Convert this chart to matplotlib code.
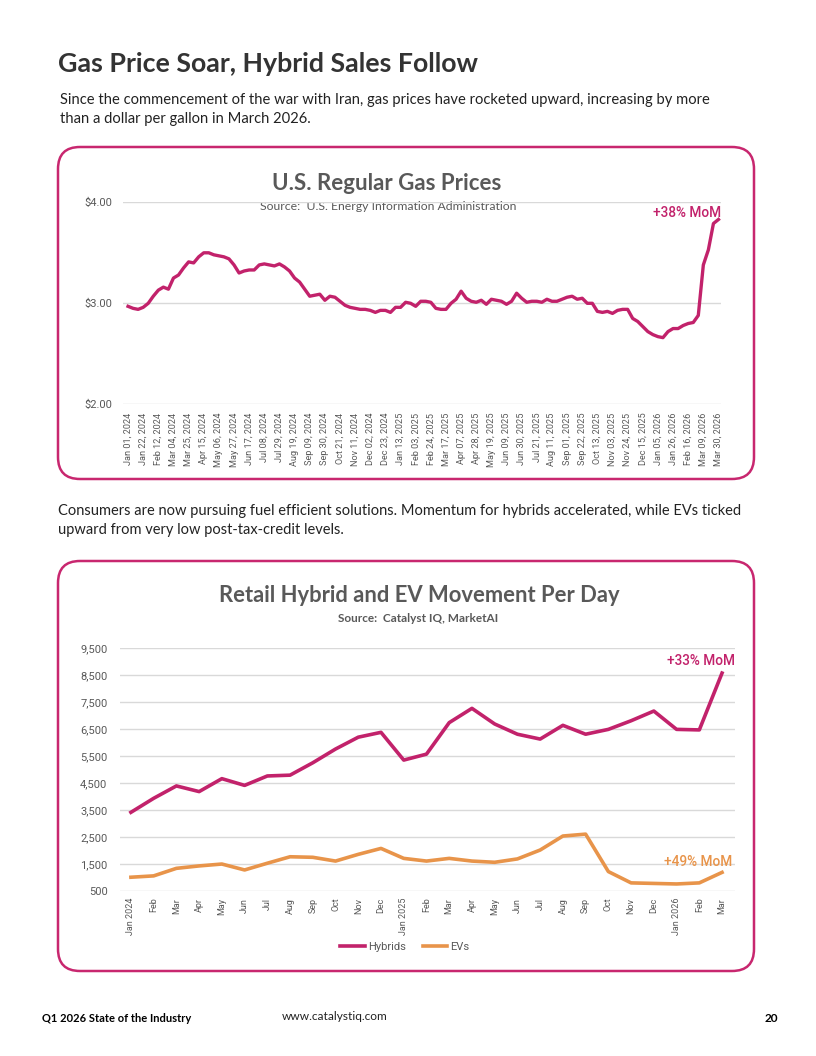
import matplotlib
matplotlib.use("Agg")
import matplotlib.pyplot as plt
from matplotlib.patches import FancyBboxPatch
from matplotlib.lines import Line2D

# ---------------- data ----------------
gas_prices = [
    2.97, 2.95, 2.94, 2.96, 3.00, 3.07, 3.13, 3.16, 3.14, 3.25,
    3.28, 3.35, 3.41, 3.40, 3.46, 3.50, 3.50, 3.48, 3.47, 3.46,
    3.44, 3.38, 3.30, 3.32, 3.33, 3.33, 3.38, 3.39, 3.38, 3.37,
    3.39, 3.36, 3.32, 3.25, 3.21, 3.14, 3.07, 3.08, 3.09, 3.03,
    3.07, 3.06, 3.02, 2.98, 2.96, 2.95, 2.94, 2.94, 2.93, 2.91,
    2.93, 2.93, 2.91, 2.96, 2.96, 3.01, 3.00, 2.97, 3.02, 3.02,
    3.01, 2.95, 2.94, 2.94, 3.00, 3.04, 3.12, 3.05, 3.02, 3.01,
    3.03, 2.99, 3.04, 3.03, 3.02, 2.99, 3.02, 3.10, 3.05, 3.01,
    3.02, 3.02, 3.01, 3.04, 3.02, 3.02, 3.04, 3.06, 3.07, 3.04,
    3.05, 3.00, 3.00, 2.92, 2.91, 2.92, 2.90, 2.93, 2.94, 2.94,
    2.85, 2.82, 2.77, 2.72, 2.69, 2.67, 2.66, 2.72, 2.75, 2.75,
    2.78, 2.80, 2.81, 2.88, 3.38, 3.53, 3.79, 3.83,
]
gas_tick_labels = [
    "Jan 01, 2024", "Jan 22, 2024", "Feb 12, 2024", "Mar 04, 2024", "Mar 25, 2024",
    "Apr 15, 2024", "May 06, 2024", "May 27, 2024", "Jun 17, 2024", "Jul 08, 2024",
    "Jul 29, 2024", "Aug 19, 2024", "Sep 09, 2024", "Sep 30, 2024", "Oct 21, 2024",
    "Nov 11, 2024", "Dec 02, 2024", "Dec 23, 2024", "Jan 13, 2025", "Feb 03, 2025",
    "Feb 24, 2025", "Mar 17, 2025", "Apr 07, 2025", "Apr 28, 2025", "May 19, 2025",
    "Jun 09, 2025", "Jun 30, 2025", "Jul 21, 2025", "Aug 11, 2025", "Sep 01, 2025",
    "Sep 22, 2025", "Oct 13, 2025", "Nov 03, 2025", "Nov 24, 2025", "Dec 15, 2025",
    "Jan 05, 2026", "Jan 26, 2026", "Feb 16, 2026", "Mar 09, 2026", "Mar 30, 2026",
]
gas_yticks = [2.0, 3.0, 4.0]

months = [
    "Jan 2024", "Feb", "Mar", "Apr", "May", "Jun", "Jul", "Aug", "Sep", "Oct", "Nov", "Dec",
    "Jan 2025", "Feb", "Mar", "Apr", "May", "Jun", "Jul", "Aug", "Sep", "Oct", "Nov", "Dec",
    "Jan 2026", "Feb", "Mar",
]
hybrids = [3410, 3930, 4390, 4180, 4660, 4410, 4760, 4790, 5250, 5760, 6200, 6380,
           5350, 5570, 6740, 7270, 6690, 6310, 6130, 6640, 6310, 6490, 6810, 7170,
           6490, 6470, 8580]
evs = [1000, 1050, 1330, 1420, 1490, 1270, 1520, 1760, 1740, 1600, 1850, 2070,
       1700, 1600, 1700, 1600, 1555, 1680, 2010, 2530, 2600, 1210, 790, 770,
       750, 790, 1180]
hy_yticks = list(range(500, 10000, 1000))

# ---------------- style ----------------
W, H = 816, 1056
MAG = "#C2226B"
ORG = "#E8944A"
BORDER = "#C8276F"
GRID = "#D9D9D9"
TXT = "#595959"
DARK = "#333333"
BODY = ["Lato", "DejaVu Sans"]
NARROW = ["Roboto", "DejaVu Sans"]

fig = plt.figure(figsize=(W / 100, H / 100), dpi=100)
fig.patch.set_facecolor("white")

bg = fig.add_axes([0, 0, 1, 1])
bg.set_xlim(0, W)
bg.set_ylim(H, 0)
bg.axis("off")


def axes_px(left, top, right, bottom):
    return fig.add_axes([left / W, 1 - bottom / H, (right - left) / W, (bottom - top) / H])


# page text
bg.text(58, 64, "Gas Price Soar, Hybrid Sales Follow", fontsize=19.3, fontweight="bold",
        color=DARK, family=BODY, va="center", ha="left")
bg.text(60, 100, "Since the commencement of the war with Iran, gas prices have rocketed upward, increasing by more",
        fontsize=10.6, color="#222222", family=BODY, va="center")
bg.text(60, 119, "than a dollar per gallon in March 2026.",
        fontsize=10.6, color="#222222", family=BODY, va="center")
bg.text(58, 511, "Consumers are now pursuing fuel efficient solutions. Momentum for hybrids accelerated, while EVs ticked",
        fontsize=10.5, color="#222222", family=BODY, va="center")
bg.text(58, 530, "upward from very low post-tax-credit levels.",
        fontsize=10.5, color="#222222", family=BODY, va="center")

# boxes
for (x0, y0, x1, y1) in [(58, 147, 754, 479), (58, 561, 754, 971)]:
    bg.add_patch(FancyBboxPatch((x0, y0), x1 - x0, y1 - y0,
                                boxstyle="round,pad=0,rounding_size=22",
                                fill=False, edgecolor=BORDER, linewidth=1.8))

# footer
bg.text(42, 1018, "Q1 2026 State of the Industry", fontsize=8.0, fontweight="bold",
        color="black", family=BODY, va="center")
bg.text(282, 1017, "www.catalystiq.com", fontsize=8.6, color="#222222", family=BODY, va="center")
bg.text(778, 1019, "20", fontsize=8.5, fontweight="bold", color="black", family=BODY,
        va="center", ha="right")

# ---------------- gas chart ----------------
gx = list(range(len(gas_prices)))
ax1 = axes_px(123, 202.3, 721, 404.3)
ax1.plot(gx, gas_prices, color=MAG, linewidth=2.4, solid_joinstyle="round", clip_on=False, zorder=3)
ax1.set_xlim(-1, 117.5)
ax1.set_ylim(2, 4)
ax1.set_yticks(gas_yticks)
ax1.set_yticklabels(["$%.2f" % v for v in gas_yticks], family=NARROW, fontsize=8, color=TXT)
ax1.set_xticks(gx[::3])
ax1.set_xticklabels(gas_tick_labels, rotation=90, family=NARROW, fontsize=6.6, color=TXT)
ax1.tick_params(length=0, pad=6)
ax1.tick_params(axis="y", pad=8)
ax1.grid(axis="y", color=GRID, linewidth=1)
for s in ax1.spines.values():
    s.set_visible(False)
ax1.set_facecolor("none")
ax1.text(gx[-1] + 0.5, 3.895, "+38% MoM", color=MAG, family=NARROW, fontsize=9.8,
         fontweight="medium", ha="right", va="center")

bg.text(387, 184, "U.S. Regular Gas Prices", fontsize=16, fontweight="bold", color=TXT,
        family=BODY, ha="center", va="center")
bg.text(388, 206, "Source:  U.S. Energy Information Administration", fontsize=8.8, color=TXT,
        family=BODY, ha="center", va="center", zorder=5)

# ---------------- hybrid / EV chart ----------------
mx = list(range(len(months)))
ax2 = axes_px(120, 648.3, 735, 890.7)
ax2.plot(mx, hybrids, color=MAG, linewidth=2.6, solid_joinstyle="round", clip_on=False, zorder=3,
         label="Hybrids")
ax2.plot(mx, evs, color=ORG, linewidth=2.6, solid_joinstyle="round", clip_on=False, zorder=3,
         label="EVs")
ax2.set_xlim(-0.48, 26.57)
ax2.set_ylim(500, 9500)
ax2.set_yticks(hy_yticks)
ax2.set_yticklabels(["{:,}".format(v) for v in hy_yticks], family=NARROW, fontsize=8, color=TXT)
ax2.set_xticks(mx)
ax2.set_xticklabels(months, rotation=90, family=NARROW, fontsize=6.5, color=TXT)
ax2.tick_params(length=0, pad=5)
ax2.tick_params(axis="y", pad=9)
ax2.grid(axis="y", color=GRID, linewidth=1)
for s in ax2.spines.values():
    s.set_visible(False)
ax2.set_facecolor("none")
ax2.text(26.57, 9010, "+33% MoM", color=MAG, family=NARROW, fontsize=9.8, fontweight="medium",
         ha="right", va="center")
ax2.text(26.45, 1580, "+49% MoM", color=ORG, family=NARROW, fontsize=9.8, fontweight="medium",
         ha="right", va="center")

bg.text(419, 596, "Retail Hybrid and EV Movement Per Day", fontsize=15.8, fontweight="bold",
        color=TXT, family=BODY, ha="center", va="center")
bg.text(418, 618, "Source:  Catalyst IQ, MarketAI", fontsize=8.5, fontweight="bold", color=TXT,
        family=BODY, ha="center", va="center")

handles = [Line2D([], [], color=MAG, linewidth=2.6), Line2D([], [], color=ORG, linewidth=2.6)]
leg = fig.legend(handles, ["Hybrids", "EVs"], loc="center", bbox_to_anchor=(405 / W, 1 - 947 / H),
                 ncol=2, frameon=False, handlelength=2.2, handletextpad=0.3, columnspacing=1.5,
                 prop={"family": NARROW, "size": 8})
for t in leg.get_texts():
    t.set_color(TXT)

fig.savefig("out.png", dpi=100, facecolor="white")
